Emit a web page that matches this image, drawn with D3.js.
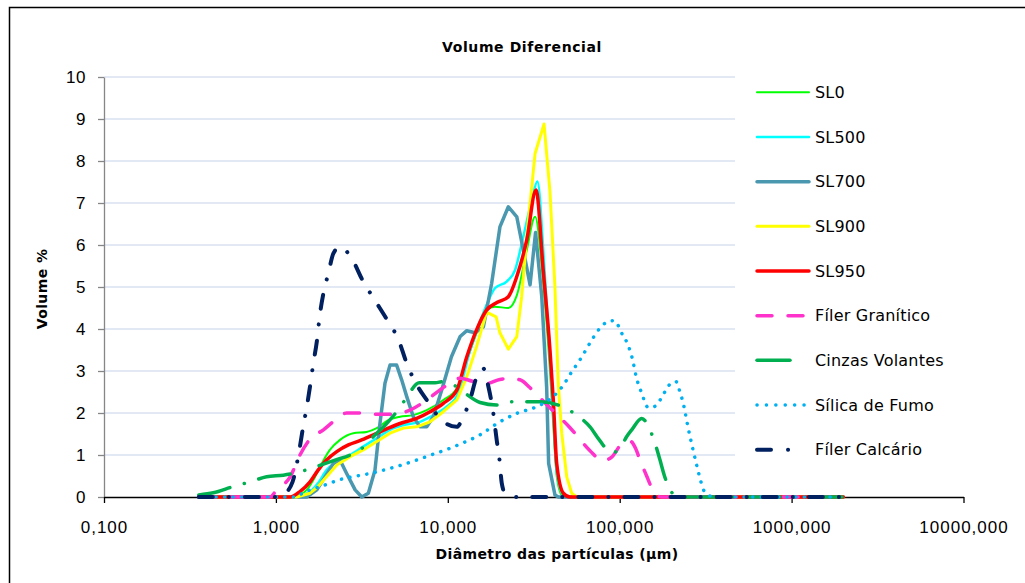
<!DOCTYPE html>
<html><head><meta charset="utf-8">
<script src="https://cdn.jsdelivr.net/npm/d3@7"></script>
<style>body{margin:0;background:#fff}svg{display:block}</style>
</head><body><svg id="c" width="1025" height="583"></svg>
<script>
// ---- data ----
const titleText = "Volume Diferencial";
const xTitle = "Diâmetro das partículas (µm)";
const yTitle = "Volume %";
const xTickValues = [0.1, 1, 10, 100, 1000, 10000];
const xTickLabels = ["0,100", "1,000", "10,000", "100,000", "1000,000", "10000,000"];
const yTickValues = [0, 1, 2, 3, 4, 5, 6, 7, 8, 9, 10];
const seriesNames = ["SL0", "SL500", "SL700", "SL900", "SL950", "Fíler Granítico", "Cinzas Volantes", "Sílica de Fumo", "Fíler Calcário"];

// [diameter µm, volume %]
const sl0 = [[0.356,0],[1.26,0],[1.51,0.17],[1.69,0.48],[1.85,0.8],[2.06,1.12],[2.36,1.36],[2.82,1.52],[3.37,1.55],[3.86,1.64],[4.51,1.83],[5.27,1.91],[6.30,1.95],[7.54,2.07],[9.42,2.31],[11.3,2.59],[12.9,3.25],[14.7,3.9],[16.8,4.45],[18.8,4.53],[22.5,4.5],[25.2,4.8],[28.8,5.88],[32.2,6.67],[35.9,5.1],[39.3,3.0],[41.1,1.7],[43.0,0.5],[46,0.05],[49,0],[2000,0]];
const sl500 = [[0.356,0],[1.26,0],[1.58,0.13],[1.76,0.33],[1.97,0.64],[2.26,0.84],[2.70,1.0],[3.22,1.2],[3.86,1.4],[4.61,1.6],[5.51,1.71],[6.89,1.79],[8.24,1.95],[9.85,2.15],[11.5,2.47],[13.5,3.5],[15.0,4.05],[16.8,4.57],[18.8,4.97],[22.0,5.13],[24.6,5.4],[27.5,6.2],[30.8,7.07],[33.2,7.51],[36.3,5.6],[39.3,3.3],[41.1,1.9],[43.0,0.6],[47,0.05],[50,0],[2000,0]];
const sl700 = [[0.356,0],[1.51,0],[1.73,0.17],[1.93,0.48],[2.16,0.8],[2.36,0.88],[2.58,0.56],[2.89,0.17],[3.16,0],[3.45,0.09],[3.77,0.64],[4.03,1.75],[4.31,2.71],[4.61,3.14],[5.04,3.14],[5.39,2.79],[5.77,2.39],[6.30,1.91],[6.89,1.67],[7.54,1.67],[8.24,1.91],[9.22,2.55],[10.5,3.34],[11.8,3.82],[12.9,3.96],[14.4,3.91],[16.1,4.05],[18.0,5.09],[20.1,6.43],[22.5,6.91],[25.2,6.67],[27.5,5.88],[30.1,5.05],[32.4,6.3],[35.2,4.77],[37.6,2.6],[38.6,0.8],[42.0,0.05],[44,0],[2000,0]];
const sl900 = [[0.356,0],[1.32,0],[1.58,0.09],[1.76,0.25],[1.97,0.48],[2.26,0.76],[2.70,0.96],[3.22,1.12],[3.86,1.32],[4.61,1.52],[5.51,1.64],[6.59,1.67],[7.88,1.79],[9.42,2.03],[11.3,2.31],[12.9,2.86],[14.7,3.58],[16.8,4.4],[19.1,4.29],[20.1,3.91],[22.5,3.52],[25.2,3.82],[26.9,4.77],[28.8,6.2],[32.2,8.18],[36.3,8.88],[39.3,7.27],[42.0,5.0],[43.9,2.71],[46.0,1.52],[49.2,0.48],[52.6,0.09],[56.2,0],[2000,0]];
const sl950 = [[0.356,0],[1.21,0],[1.38,0.13],[1.58,0.36],[1.76,0.64],[1.97,0.88],[2.26,1.08],[2.64,1.24],[3.08,1.34],[3.69,1.48],[4.41,1.62],[5.27,1.75],[6.59,1.87],[7.88,2.03],[9.42,2.23],[11.3,2.55],[12.9,3.34],[14.7,3.98],[16.8,4.45],[19.3,4.63],[22.5,4.77],[25.2,5.25],[28.8,6.12],[32.6,7.31],[35.9,5.4],[39.3,3.5],[41.1,2.3],[43.0,0.8],[47.0,0.09],[51.4,0],[2000,0]];
const filerGranitico = [[0.356,0],[0.925,0],[1.01,0.17],[1.21,0.48],[1.38,1.0],[1.58,1.38],[1.89,1.6],[2.21,1.83],[2.58,2.0],[3.08,2.0],[3.77,1.97],[4.82,1.97],[6.03,2.07],[7.54,2.31],[9.01,2.55],[10.3,2.71],[11.8,2.83],[14.1,2.75],[16.8,2.7],[20.1,2.8],[23.0,2.82],[26.3,2.79],[30.1,2.6],[37.6,2.2],[46,1.85],[51.4,1.65],[60.1,1.32],[67.2,1.1],[80.3,0.86],[89.8,0.95],[105,1.3],[115,1.33],[124,1.15],[131.2,0.88],[143.5,0.5],[153.5,0.22],[165,0.03],[175,0],[2000,0]];
const cinzasVolantes = [[0.356,0.05],[0.432,0.1],[0.565,0.25],[0.706,0.36],[0.883,0.48],[1.104,0.52],[1.38,0.6],[1.7,0.72],[2.21,0.88],[2.70,1.0],[3.08,1.12],[3.69,1.44],[4.41,1.75],[5.04,2.03],[5.64,2.31],[6.83,2.72],[8.43,2.72],[9.42,2.75],[10.8,2.67],[12.6,2.47],[15.4,2.25],[19.2,2.19],[24.0,2.27],[34.4,2.27],[47.0,2.14],[56.2,1.95],[67.2,1.67],[76.1,1.36],[89.8,1.05],[100.4,1.16],[109.9,1.44],[117.5,1.6],[134.3,1.87],[150,1.6],[160.4,1.28],[171.6,0.88],[181.6,0.52],[196.2,0.17],[214.8,0.02],[230,0],[2000,0]];
const silicaFumo = [[0.356,0],[1.3,0],[1.44,0.1],[1.81,0.25],[2.07,0.33],[2.26,0.39],[2.95,0.5],[3.53,0.56],[4.22,0.64],[5.27,0.75],[6.59,0.88],[8.24,1.02],[10.3,1.16],[11.8,1.26],[15.4,1.48],[19.7,1.77],[25.2,1.99],[32.9,2.15],[39.3,2.33],[46.0,2.61],[52.6,2.98],[60.1,3.33],[67.2,3.67],[76.1,4.0],[83.2,4.15],[92.7,4.2],[104,3.86],[110.7,3.66],[119,3.26],[124.5,2.88],[134.3,2.47],[146.6,2.13],[162.6,2.17],[173,2.33],[183.5,2.51],[194.4,2.67],[212.5,2.75],[222.2,2.55],[236.6,2.15],[247.4,1.74],[265.8,1.16],[280.4,0.76],[297,0.36],[306.5,0.18],[327.6,0.05],[350.6,0],[2000,0]];
const filerCalcario = [[0.356,0],[1.0,0],[1.10,0.05],[1.25,0.36],[1.36,1.05],[1.44,1.67],[1.51,2.13],[1.60,2.79],[1.65,3.18],[1.73,3.7],[1.79,4.25],[1.89,4.85],[2.02,5.33],[2.16,5.80],[2.36,5.96],[2.76,5.68],[3.22,5.13],[3.73,4.71],[4.51,4.17],[5.15,3.76],[5.77,3.18],[6.44,2.75],[7.54,2.31],[9.22,1.83],[11.27,1.67],[12.31,1.91],[13.46,2.31],[14.72,2.86],[16.1,3.06],[17.22,2.63],[18.41,1.99],[19.25,1.36],[19.95,0.92],[20.6,0.33],[21.5,0.1],[25.2,0],[2000,0]];

const seriesData = [sl0, sl500, sl700, sl900, sl950, filerGranitico, cinzasVolantes, silicaFumo, filerCalcario];

// ---- styles ----
const styles = [
  {color:"#00FF00", w:2,   dash:null, legDash:null, curve:d3.curveMonotoneX},
  {color:"#00FFFF", w:2.5, dash:null, legDash:null, curve:d3.curveMonotoneX},
  {color:"#4A98B0", w:3.5, dash:null, legDash:null, curve:d3.curveLinear},
  {color:"#FFFF00", w:3,   dash:null, legDash:null, curve:d3.curveLinear},
  {color:"#FF0000", w:3.5, dash:null, legDash:null, curve:d3.curveMonotoneX},
  {color:"#FF33CC", w:3.5, dash:"15,16", legDash:"15,16", curve:d3.curveMonotoneX},
  {color:"#00B050", w:3.5, dash:"32,15,0.1,15", legDash:"33,40", curve:d3.curveMonotoneX},
  {color:"#00B0F0", w:3.5, dash:"0.1,8.5", legDash:"0.1,9.3", curve:d3.curveMonotoneX},
  {color:"#002060", w:4,   dash:"14,16,0.1,16", legDash:"14,17,0.1,40", curve:d3.curveMonotoneX}
];

const svg = d3.select("#c");
const x = d3.scaleLog().domain([0.1, 10000]).range([104, 963.5]);
const y = d3.scaleLinear().domain([0, 10]).range([497, 77]);

// frame
svg.append("path").attr("d","M9.5,590V7.5H1030").attr("fill","none").attr("stroke","#000").attr("stroke-width",1.5);

// gridlines
svg.append("g").selectAll("line").data(yTickValues.filter(v=>v>0)).join("line")
  .attr("x1",104).attr("x2",963.5).attr("y1",d=>y(d)).attr("y2",d=>y(d))
  .attr("stroke","#D9E2F1").attr("stroke-width",1.3);

// legend background (covers gridlines)
svg.append("rect").attr("x",735).attr("y",68).attr("width",290).attr("height",405).attr("fill","#fff");

// y axis
const ya = svg.append("g").attr("transform","translate(104,0)")
  .call(d3.axisLeft(y).tickValues(yTickValues).tickFormat(d3.format("d")).tickSize(6).tickSizeOuter(0));
ya.select(".domain").attr("stroke","#868686").attr("stroke-width",1.3);
ya.selectAll(".tick line").attr("stroke","#868686").attr("stroke-width",1.3);
ya.selectAll("text").attr("x",-18).attr("dy","0.35em")
  .attr("font-family","'Liberation Sans', Arial, sans-serif").attr("font-size",17).attr("letter-spacing",0.6).attr("fill","#000");

// x axis
const xa = svg.append("g").attr("transform","translate(0,497)")
  .call(d3.axisBottom(x).tickValues(xTickValues).tickFormat((d,i)=>xTickLabels[i]).tickSize(6).tickSizeOuter(0));
xa.select(".domain").attr("stroke","#000").attr("stroke-width",1.3);
xa.selectAll(".tick line").attr("stroke","#000").attr("stroke-width",1.3);
xa.selectAll("text").attr("y",30.5).attr("dy","0.35em")
  .attr("font-family","'Liberation Sans', Arial, sans-serif").attr("font-size",17).attr("letter-spacing",1).attr("fill","#000");

// series
const line = d3.line().x(d=>x(d[0])).y(d=>y(d[1]));
seriesData.forEach((s,i)=>{
  const st = styles[i];
  svg.append("path").datum(s)
    .attr("d", line.curve(st.curve))
    .attr("fill","none").attr("stroke",st.color).attr("stroke-width",st.w)
    .attr("stroke-linecap","round").attr("stroke-linejoin","round")
    .attr("stroke-dasharray",st.dash);
});

// titles
const boldFont = "'DejaVu Sans', Verdana, sans-serif";
svg.append("text").attr("x",522).attr("y",47).attr("dy","0.35em").attr("text-anchor","middle")
  .attr("font-family",boldFont).attr("font-weight","bold").attr("font-size",14).attr("letter-spacing",0.6)
  .text(titleText);
svg.append("text").attr("x",557).attr("y",554).attr("dy","0.35em").attr("text-anchor","middle")
  .attr("font-family",boldFont).attr("font-weight","bold").attr("font-size",14).attr("letter-spacing",0.4)
  .text(xTitle);
svg.append("text").attr("transform","translate(42,289) rotate(-90)").attr("dy","0.35em").attr("text-anchor","middle")
  .attr("font-family",boldFont).attr("font-weight","bold").attr("font-size",14).attr("letter-spacing",0.4)
  .text(yTitle);

// legend
const lg = svg.append("g");
seriesNames.forEach((name,i)=>{
  const st = styles[i];
  const ly = 92.3 + i*44.67;
  lg.append("line").attr("x1",757).attr("x2",809).attr("y1",ly).attr("y2",ly)
    .attr("stroke",st.color).attr("stroke-width",st.w).attr("stroke-linecap","round")
    .attr("stroke-dasharray",st.legDash);
  lg.append("text").attr("x",815).attr("y",ly).attr("dy","0.36em")
    .attr("font-family","'DejaVu Sans', Verdana, sans-serif").attr("font-size",16).attr("letter-spacing",0.2).attr("fill","#000")
    .text(name);
});
</script>
</body></html>
